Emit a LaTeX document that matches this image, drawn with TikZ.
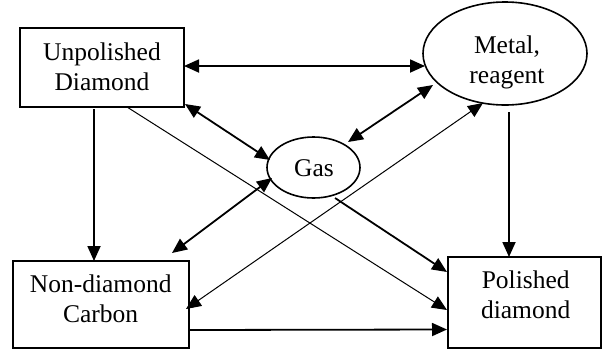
\documentclass[tikz,border=0pt]{standalone}
\usepackage{fontspec}
\setmainfont{Liberation Serif}
\usetikzlibrary{arrows.meta,shapes.geometric}
\tikzset{
  boxshape/.style={draw,line width=1.6pt,rectangle,inner sep=0pt},
  ellshape/.style={draw,line width=1.6pt,ellipse,inner sep=0pt},
  lbl/.style={inner sep=0pt,align=center,font=\fontsize{25.5}{30}\selectfont},
  thickarr/.style={line width=1.8pt,-{Triangle[length=15pt,width=13pt]}},
  thickdbl/.style={line width=1.8pt,{Triangle[length=15pt,width=13pt]}-{Triangle[length=15pt,width=13pt]}},
  thinarr/.style={line width=1pt,-{Triangle[length=15pt,width=13pt]}},
  thindbl/.style={line width=1pt,{Triangle[length=15pt,width=13pt]}-{Triangle[length=15pt,width=13pt]}}
}
\begin{document}
\begin{tikzpicture}[x=1pt,y=-1pt]
\useasboundingbox (0,0) rectangle (602,349);
% shapes
\node[boxshape,minimum width=164pt,minimum height=79pt] (ud) at (102,67.5) {};
\node[ellshape,minimum width=164pt,minimum height=103pt] (mr) at (505,53.5) {};
\node[ellshape,minimum width=93pt,minimum height=61pt] (gas) at (313.5,167.5) {};
\node[boxshape,minimum width=176pt,minimum height=87pt] (nd) at (101,304.5) {};
\node[boxshape,minimum width=153pt,minimum height=91pt] (pd) at (524.5,302.5) {};
% labels
\node[lbl] (udT) at (102,66.3) {Unpolished\\Diamond};
\node[lbl] (mrT) at (507,62.1) {Metal,\\reagent};
\node[lbl] (gasT) at (314,168.3) {Gas};
\node[lbl] (ndT) at (100.7,299) {Non-diamond\\Carbon};
\node[lbl] (pdT) at (525.7,294.4) {Polished\\diamond};
% connectors
\draw[thickdbl] ([shift={(82,-1.5)}]ud.center) -- ([shift={(-80,12.5)}]mr.center);
\draw[thickdbl] ([shift={(83,36.5)}]ud.center) -- ([shift={(-43.5,-7.5)}]gas.center);
\draw[thickdbl] ([shift={(34.5,-25.5)}]gas.center) -- ([shift={(-72,31.5)}]mr.center);
\draw[thickdbl] ([shift={(-41.5,10.5)}]gas.center) -- ([shift={(71,-51.5)}]nd.center);
\draw[thickarr] ([shift={(-8,41.5)}]ud.center) -- ([shift={(-7,-43.5)}]nd.center);
\draw[thinarr] ([shift={(25,39.5)}]ud.center) -- ([shift={(-77.5,7.5)}]pd.center);
\draw[thindbl] ([shift={(85,4.5)}]nd.center) -- ([shift={(-22,49.5)}]mr.center);
\draw[thickarr] ([shift={(21.5,30.5)}]gas.center) -- ([shift={(-77.5,-30.5)}]pd.center);
\draw[thickarr] ([shift={(4,58.5)}]mr.center) -- ([shift={(-15.5,-45.5)}]pd.center);
\draw[thickarr] ([shift={(88,25.5)}]nd.center) -- ([shift={(-77.5,27)}]pd.center);
\end{tikzpicture}
\end{document}
